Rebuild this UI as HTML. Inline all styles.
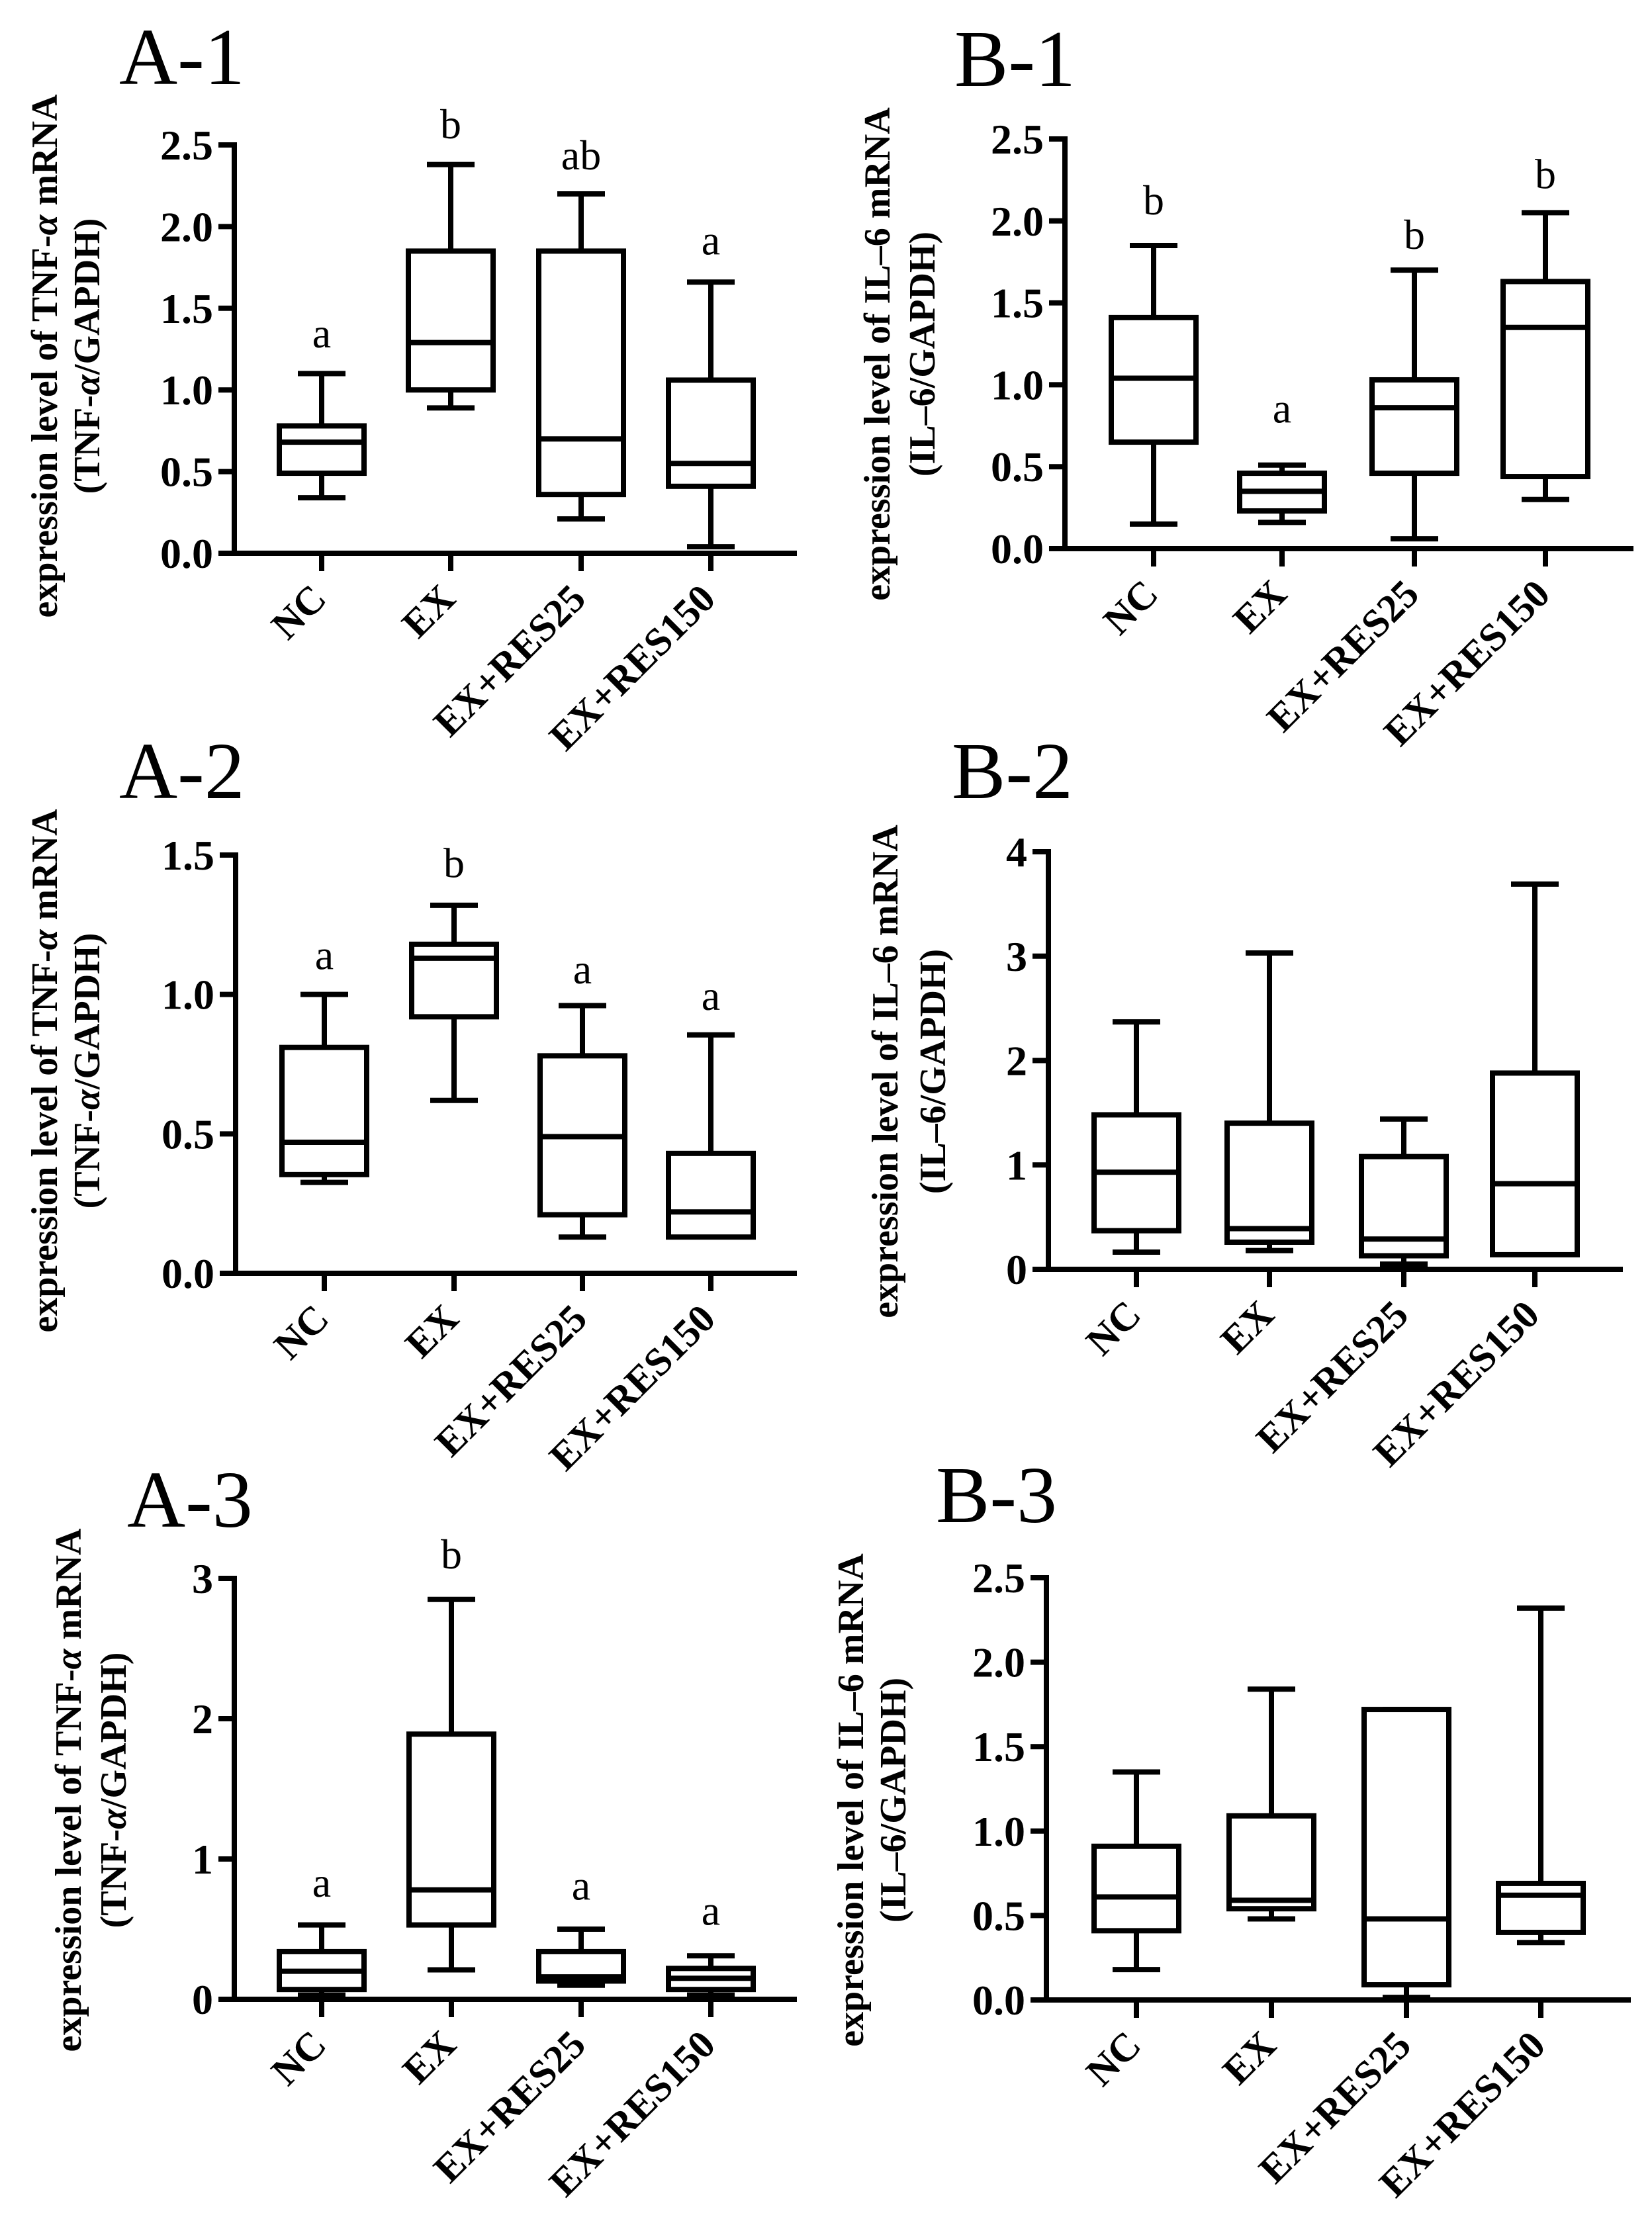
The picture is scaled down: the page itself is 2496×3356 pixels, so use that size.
<!DOCTYPE html>
<html><head><meta charset="utf-8"><style>
html,body{margin:0;padding:0;background:#fff}
svg{display:block}
text{font-family:"Liberation Serif","Times New Roman",serif;fill:#000}
</style></head><body>
<svg id="fig" width="2496" height="3356" viewBox="0 0 2496 3356" xmlns="http://www.w3.org/2000/svg">
<rect width="2496" height="3356" fill="#fff"/>
</svg>
<script>
// ---- data: [min, q1, median, q3, max] per group ----
const categories = ["NC","EX","EX+RES25","EX+RES150"];

const a1NC=[0.34,0.49,0.68,0.78,1.10];
const a1EX=[0.89,1.00,1.29,1.85,2.38];
const a1R25=[0.21,0.36,0.70,1.85,2.20];
const a1R150=[0.04,0.41,0.55,1.06,1.66];
const a1Letters=["a","b","ab","a"];
const a1LetterY=[1.26,2.54,2.35,1.83];
const a1Ticks=["0.0","0.5","1.0","1.5","2.0","2.5"];

const b1NC=[0.15,0.65,1.04,1.41,1.85];
const b1EX=[0.16,0.23,0.35,0.46,0.51];
const b1R25=[0.06,0.46,0.86,1.03,1.70];
const b1R150=[0.30,0.44,1.35,1.63,2.05];
const b1Letters=["b","a","b","b"];
const b1LetterY=[2.04,0.77,1.83,2.20];
const b1Ticks=["0.0","0.5","1.0","1.5","2.0","2.5"];

const a2NC=[0.326,0.354,0.47,0.81,1.00];
const a2EX=[0.62,0.92,1.13,1.18,1.32];
const a2R25=[0.13,0.21,0.49,0.78,0.96];
const a2R150=[0.13,0.13,0.22,0.43,0.855];
const a2Letters=["a","b","a","a"];
const a2LetterY=[1.09,1.42,1.04,0.945];
const a2Ticks=["0.0","0.5","1.0","1.5"];

const b2NC=[0.165,0.37,0.93,1.48,2.37];
const b2EX=[0.18,0.26,0.39,1.40,3.03];
const b2R25=[0.05,0.13,0.29,1.08,1.44];
const b2R150=[0.14,0.14,0.82,1.88,3.69];
const b2Letters=["","","",""];
const b2LetterY=[0,0,0,0];
const b2Ticks=["0","1","2","3","4"];

const a3NC=[0.03,0.07,0.20,0.34,0.53];
const a3EX=[0.21,0.53,0.78,1.89,2.85];
const a3R25=[0.10,0.13,0.16,0.34,0.50];
const a3R150=[0.03,0.07,0.15,0.22,0.31];
const a3Letters=["a","b","a","a"];
const a3LetterY=[0.73,3.07,0.71,0.53];
const a3Ticks=["0","1","2","3"];

const b3NC=[0.18,0.41,0.61,0.91,1.35];
const b3EX=[0.48,0.54,0.59,1.09,1.84];
const b3R25=[0.015,0.09,0.48,1.72,1.72];
const b3R150=[0.34,0.40,0.62,0.69,2.32];
const b3Letters=["","","",""];
const b3LetterY=[0,0,0,0];
const b3Ticks=["0.0","0.5","1.0","1.5","2.0","2.5"];

// ---- layout ----
const NS="http://www.w3.org/2000/svg";
const svg=document.getElementById('fig');
function mk(tag,attrs,parent){const e=document.createElementNS(NS,tag);for(const k in attrs)e.setAttribute(k,attrs[k]);(parent||svg).appendChild(e);return e;}

const panels=[
 {id:"a1",title:"A-1",tx:180,ty:127,ax:354,top:219,zero:836,right:1204,ymax:2.5,cats:[486,681,878,1074],lx:[68,132],lcy:538,gene:"TNF",groups:[a1NC,a1EX,a1R25,a1R150],letters:a1Letters,ly:a1LetterY,ticks:a1Ticks},
 {id:"b1",title:"B-1",tx:1442,ty:130,ax:1609,top:210,zero:829,right:2468,ymax:2.5,cats:[1743,1937,2137,2335],lx:[1326,1394],lcy:535,gene:"IL",groups:[b1NC,b1EX,b1R25,b1R150],letters:b1Letters,ly:b1LetterY,ticks:b1Ticks},
 {id:"a2",title:"A-2",tx:180,ty:1206,ax:356,top:1292,zero:1924,right:1204,ymax:1.5,cats:[490,686,880,1074],lx:[68,132],lcy:1618,gene:"TNF",groups:[a2NC,a2EX,a2R25,a2R150],letters:a2Letters,ly:a2LetterY,ticks:a2Ticks},
 {id:"b2",title:"B-2",tx:1438,ty:1206,ax:1584,top:1287,zero:1918,right:2452,ymax:4,cats:[1717,1918,2121,2319],lx:[1338,1410],lcy:1619,gene:"IL",groups:[b2NC,b2EX,b2R25,b2R150],letters:b2Letters,ly:b2LetterY,ticks:b2Ticks},
 {id:"a3",title:"A-3",tx:192,ty:2307,ax:354,top:2385,zero:3021,right:1204,ymax:3,cats:[486,682,878,1074],lx:[104,172],lcy:2705,gene:"TNF",groups:[a3NC,a3EX,a3R25,a3R150],letters:a3Letters,ly:a3LetterY,ticks:a3Ticks},
 {id:"b3",title:"B-3",tx:1414,ty:2300,ax:1581,top:2384,zero:3022,right:2464,ymax:2.5,cats:[1717,1921,2125,2328],lx:[1286,1350],lcy:2720,gene:"IL",groups:[b3NC,b3EX,b3R25,b3R150],letters:b3Letters,ly:b3LetterY,ticks:b3Ticks}
];

const SW=8, BOXW=128, CAPW=72;

panels.forEach(p=>{
  const g=mk('g',{});
  
  
  const y=v=>p.zero-(v/p.ymax)*(p.zero-p.top);

  const t=mk('text',{x:p.tx,y:p.ty,'font-size':122},g);
  t.textContent=p.title;
  
  

  const yt=mk('g',{},g);
  
  
  const l1=mk('text',{transform:`translate(${p.lx[0]},${p.lcy}) rotate(-90)`,'text-anchor':'middle','dominant-baseline':'central','font-size':56,'font-weight':'bold'},yt);
  const l2=mk('text',{transform:`translate(${p.lx[1]},${p.lcy}) rotate(-90)`,'text-anchor':'middle','dominant-baseline':'central','font-size':56,'font-weight':'bold'},yt);
  if(p.gene==="TNF"){
    l1.innerHTML='expression level of TNF-<tspan font-style="italic">α</tspan> mRNA';
    l2.innerHTML='(TNF-<tspan font-style="italic">α</tspan>/GAPDH)';
  } else {
    l1.textContent='expression level of IL–6 mRNA';
    l2.textContent='(IL–6/GAPDH)';
  }

  const ya=mk('line',{x1:p.ax,y1:p.top-4,x2:p.ax,y2:p.zero,stroke:'#000','stroke-width':SW},g);
  
  
  const xa=mk('line',{x1:p.ax-22,y1:p.zero,x2:p.right,y2:p.zero,stroke:'#000','stroke-width':SW},g);
  
  

  const n=p.ticks.length;
  p.ticks.forEach((lab,i)=>{
    const v=p.ymax*i/(n-1), yy=y(v);
    const tk=mk('line',{x1:p.ax-24,y1:yy,x2:p.ax,y2:yy,stroke:'#000','stroke-width':SW},g);
    
    
    const tl=mk('text',{x:p.ax-32,y:yy+22,'text-anchor':'end','font-size':64,'font-weight':'bold'},g);
    tl.textContent=lab;
    
    
  });

  p.groups.forEach((d,i)=>{
    const cx=p.cats[i];
    const tk=mk('line',{x1:cx,y1:p.zero,x2:cx,y2:p.zero+27,stroke:'#000','stroke-width':SW},g);
    
    
    const cl=mk('text',{transform:`translate(${cx+10},${p.zero+72}) rotate(-45)`,'text-anchor':'end','font-size':60,'font-weight':'bold'},g);
    cl.textContent=categories[i];
    
    

    const bx=mk('g',{},g);
    
    
    const [mn,q1,md,q3,mx]=d;
    mk('line',{x1:cx,y1:y(mx),x2:cx,y2:y(q3),stroke:'#000','stroke-width':SW},bx);
    mk('line',{x1:cx,y1:y(q1),x2:cx,y2:y(mn),stroke:'#000','stroke-width':SW},bx);
    mk('line',{x1:cx-CAPW/2,y1:y(mx),x2:cx+CAPW/2,y2:y(mx),stroke:'#000','stroke-width':SW},bx);
    if(mn<q1) mk('line',{x1:cx-CAPW/2,y1:y(mn),x2:cx+CAPW/2,y2:y(mn),stroke:'#000','stroke-width':SW},bx);
    mk('rect',{x:cx-BOXW/2,y:y(q3),width:BOXW,height:Math.max(0,y(q1)-y(q3)),fill:'none',stroke:'#000','stroke-width':SW},bx);
    mk('line',{x1:cx-BOXW/2,y1:y(md),x2:cx+BOXW/2,y2:y(md),stroke:'#000','stroke-width':SW},bx);

    if(p.letters[i]){
      const lt=mk('text',{x:cx,y:y(p.ly[i]),'text-anchor':'middle','font-size':64},g);
      lt.textContent=p.letters[i];
      
      
    }
  });
});
</script>
</body></html>
